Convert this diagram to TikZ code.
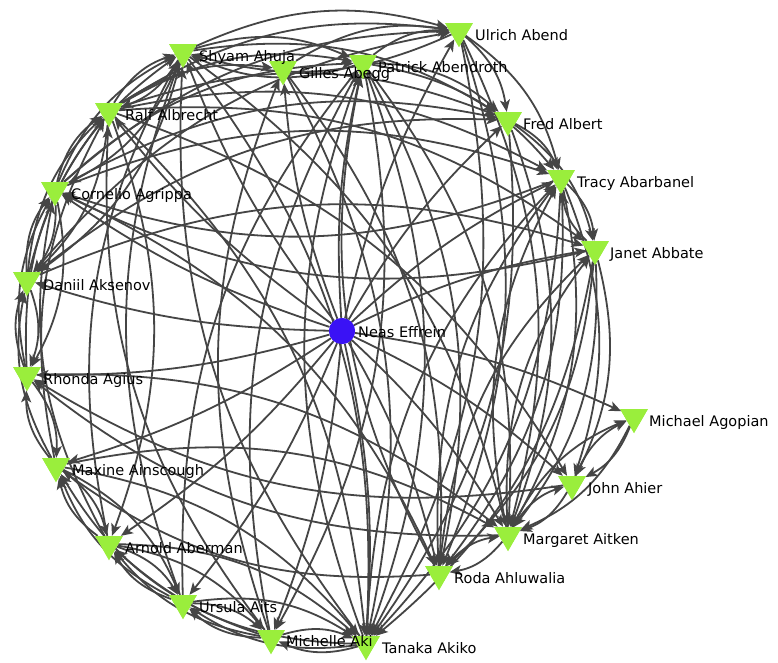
\documentclass[tikz,border=0pt]{standalone}
\usepackage{fontspec}
\setmainfont{DejaVu Sans}
\usetikzlibrary{shapes.geometric,arrows.meta}
\definecolor{edgecol}{HTML}{454545}
\definecolor{trigreen}{HTML}{9AEE3C}
\definecolor{centblue}{HTML}{3A12F5}
\tikzset{
  tri/.style={regular polygon, regular polygon sides=3, shape border rotate=180,
    fill=trigreen, draw=none, minimum size=32pt, inner sep=0pt},
  hub/.style={circle, fill=centblue, draw=none, minimum size=26pt, inner sep=0pt},
  lbl/.style={anchor=base west, inner sep=0pt, font=\fontsize{14.5}{17}\selectfont, text=black},
  e/.style={draw=edgecol, line width=1.8pt, -{Stealth[length=12pt,width=10pt,inset=3pt]}},
}
\begin{document}
\begin{tikzpicture}[x=1pt,y=-1pt]
\useasboundingbox (0,0) rectangle (778,662);
\fill[white] (0,0) rectangle (778,662);
% nodes
\node[hub] (NE) at (342,331) {};
\node[tri] (UA) at (459,31) {};
\node[tri] (PA) at (363,63) {};
\node[tri] (GA) at (283,69) {};
\node[tri] (SA) at (183,52) {};
\node[tri] (RA) at (109,111) {};
\node[tri] (CA) at (55,190) {};
\node[tri] (DA) at (27,280) {};
\node[tri] (RH) at (27,375) {};
\node[tri] (MX) at (56,466) {};
\node[tri] (AB) at (109,544) {};
\node[tri] (UR) at (183,603) {};
\node[tri] (MI) at (271,638) {};
\node[tri] (TA) at (366,644) {};
\node[tri] (RO) at (439,574) {};
\node[tri] (MG) at (508,535) {};
\node[tri] (JO) at (572,484) {};
\node[tri] (MC) at (634,417) {};
\node[tri] (JA) at (595,249) {};
\node[tri] (TR) at (561,178) {};
\node[tri] (FA) at (508,120) {};
% edges from the hub
\foreach \b in {UA,PA,GA,SA,RA,CA,DA,RH,MX,AB,UR,MI,TA,RO,MG,JO,MC,JA,TR,FA}
  \draw[e] (NE) to[bend left=8] (\b);
% other edges
\foreach \a/\b in {SA/UA,RA/UA,CA/UA,PA/UA,GA/UA,DA/UA,
  UA/FA,UA/TR,UA/TA,UA/RO,UA/SA,
  PA/SA,PA/TR,PA/FA,SA/PA,RA/PA,CA/PA,
  TA/PA,MI/PA,RO/PA,UR/PA,MI/GA,RA/GA,
  CA/SA,RA/SA,DA/SA,AB/SA,UR/SA,TA/SA,
  SA/RA,CA/RA,DA/RA,RH/RA,MX/RA,MI/RA,
  SA/CA,DA/CA,RH/CA,TR/CA,JA/CA,AB/CA,
  SA/DA,RA/DA,CA/DA,RH/DA,MX/DA,
  DA/RH,CA/RH,MG/RH,MX/RH,JO/RH,
  AB/MX,UR/MX,MI/MX,RO/MX,RH/MX,
  MX/AB,RA/AB,UR/AB,MI/AB,TA/AB,
  MX/UR,AB/UR,MI/UR,TA/UR,
  AB/MI,UR/MI,TA/MI,PA/MI,
  MI/TA,UR/TA,PA/TA,FA/TA,TR/TA,JA/TA,SA/TA,RA/TA,GA/TA,MX/TA,AB/TA,
  TR/RO,JA/RO,GA/RO,PA/RO,MG/RO,CA/RO,
  FA/MG,TR/MG,JA/MG,UA/MG,PA/MG,SA/MG,RO/MG,JO/MG,MX/MG,RH/MG,MC/MG,
  TR/JO,JA/JO,MG/JO,MC/JO,RA/JO,
  MG/MC,JO/MC,
  TR/JA,FA/JA,DA/JA,RA/JA,MG/JA,RO/JA,
  FA/TR,JA/TR,MG/TR,RO/TR,TA/TR,CA/TR,RA/TR,
  CA/FA,RA/FA,SA/FA,DA/FA}
  \draw[e] (\a) to[bend left=20] (\b);
% node shapes again, on top of the edges
\node[hub] at (NE.center) {};
\foreach \n in {UA,PA,GA,SA,RA,CA,DA,RH,MX,AB,UR,MI,TA,RO,MG,JO,MC,JA,TR,FA}
  \node[tri] at (\n.center) {};
% labels
\node[lbl] at (358,337) {Neas Effrein};
\node[lbl] at (475,40) {Ulrich Abend};
\node[lbl] at (378,72) {Patrick Abendroth};
\node[lbl] at (299,78) {Gilles Abegg};
\node[lbl] at (199,61) {Shyam Ahuja};
\node[lbl] at (125,120) {Ralf Albrecht};
\node[lbl] at (71,199) {Cornelio Agrippa};
\node[lbl] at (43,290) {Daniil Aksenov};
\node[lbl] at (43,384) {Rhonda Agius};
\node[lbl] at (72,475) {Maxine Ainscough};
\node[lbl] at (125,553) {Arnold Aberman};
\node[lbl] at (199,612) {Ursula Aits};
\node[lbl] at (286,646) {Michelle Aki};
\node[lbl] at (382,653) {Tanaka Akiko};
\node[lbl] at (454,583) {Roda Ahluwalia};
\node[lbl] at (523,544) {Margaret Aitken};
\node[lbl] at (588,493) {John Ahier};
\node[lbl] at (649,426) {Michael Agopian};
\node[lbl] at (610,258) {Janet Abbate};
\node[lbl] at (577,187) {Tracy Abarbanel};
\node[lbl] at (523,129) {Fred Albert};
\end{tikzpicture}
\end{document}
